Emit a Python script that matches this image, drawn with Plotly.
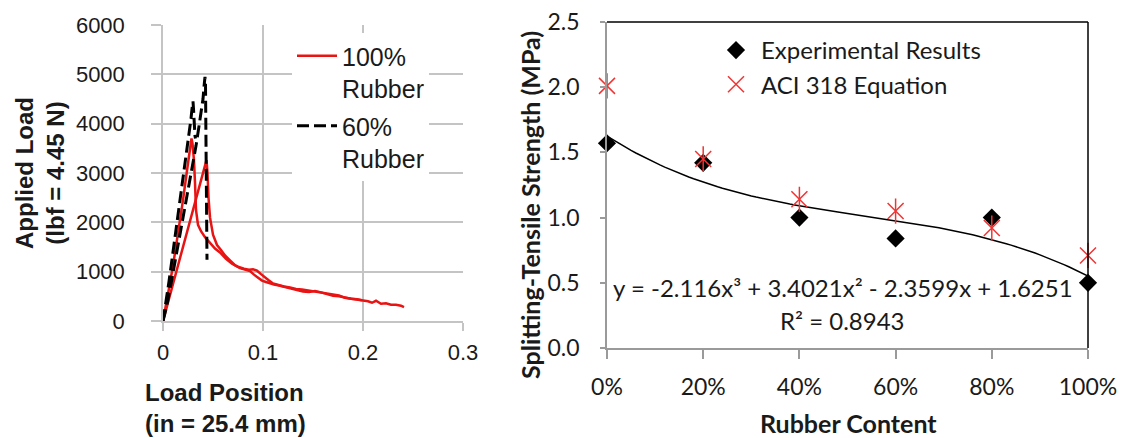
import numpy as np
import plotly.graph_objects as go

# ---------------- Load-displacement curves (left panel) ----------------
# 100% rubber, specimen 1
r1_pos = [0, 0.004, 0.008, 0.012, 0.016, 0.020, 0.024, 0.027, 0.0285, 0.0295, 0.031, 0.032,
          0.033, 0.035, 0.038, 0.042, 0.047, 0.052, 0.057, 0.063, 0.069, 0.075, 0.081, 0.086,
          0.090, 0.094, 0.098, 0.102, 0.106, 0.110, 0.115, 0.121, 0.127, 0.133, 0.139, 0.145,
          0.151, 0.157, 0.163, 0.170, 0.176, 0.182, 0.188, 0.194, 0.200, 0.205, 0.209, 0.213,
          0.218, 0.223, 0.228, 0.233, 0.238, 0.241]
r1_load = [0, 420, 880, 1380, 1880, 2450, 3050, 3500, 3700, 3600, 3250, 2800,
           2250, 1950, 1820, 1700, 1580, 1470, 1390, 1260, 1160, 1100, 1060, 1040,
           1050, 1020, 950, 880, 820, 760, 730, 700, 680, 650, 640, 620,
           600, 570, 560, 540, 520, 470, 450, 430, 410, 400, 370, 410,
           350, 360, 330, 330, 310, 280]

# 100% rubber, specimen 2
r2_pos = [0, 0.005, 0.010, 0.015, 0.020, 0.025, 0.029, 0.031, 0.034, 0.037, 0.040, 0.042,
          0.0435, 0.0445, 0.0455, 0.047, 0.050, 0.054, 0.058, 0.062, 0.067, 0.072, 0.077,
          0.082, 0.087, 0.091, 0.095, 0.099, 0.103, 0.107, 0.111, 0.116, 0.122, 0.128,
          0.134, 0.140, 0.146, 0.152, 0.158, 0.164, 0.170, 0.176, 0.182, 0.188, 0.194, 0.199]
r2_load = [0, 380, 760, 1120, 1500, 1880, 2200, 2350, 2600, 2800, 3000, 3150,
           3260, 3000, 2500, 2100, 1750, 1540, 1440, 1330, 1230, 1130, 1070,
           1040, 1010, 940, 870, 820, 790, 760, 740, 720, 690, 660,
           640, 600, 590, 610, 580, 540, 510, 500, 470, 450, 440, 420]

# 60% rubber, specimen 1
s1_pos = [0, 0.003, 0.006, 0.009, 0.012, 0.015, 0.018, 0.021, 0.024, 0.026, 0.028, 0.029,
          0.030, 0.0305, 0.031, 0.032, 0.0325]
s1_load = [0, 380, 800, 1250, 1700, 2150, 2550, 2950, 3450, 3750, 4100, 4300,
           4450, 4300, 3950, 3750, 3700]

# 60% rubber, specimen 2
s2_pos = [0, 0.004, 0.008, 0.012, 0.016, 0.020, 0.024, 0.027, 0.030, 0.033, 0.036, 0.038,
          0.040, 0.041, 0.042, 0.0425, 0.043, 0.0435, 0.044]
s2_load = [0, 330, 750, 1200, 1650, 2100, 2550, 2850, 3200, 3550, 3950, 4200,
           4500, 4750, 4950, 4800, 3600, 2400, 1240]

load_ticks = [0, 1000, 2000, 3000, 4000, 5000, 6000]
pos_ticks = [0, 0.1, 0.2, 0.3]
pos_tick_text = ["0", "0.1", "0.2", "0.3"]

# ---------------- Splitting-tensile strength (right panel) ----------------
rubber_content = [0.0, 0.2, 0.4, 0.6, 0.8, 1.0]
rubber_labels = ["0%", "20%", "40%", "60%", "80%", "100%"]
experimental = [1.57, 1.42, 1.00, 0.84, 1.00, 0.50]
aci_318 = [2.01, 1.45, 1.14, 1.05, 0.92, 0.71]
fit_coeffs = [-2.116, 3.4021, -2.3599, 1.6251]   # cubic, highest power first
fit_r2 = 0.8943

RED = "#e81414"
ACI_RED = "#f03434"
GRID = "#c4c4c4"
ARIAL = "Liberation Sans, Arial, sans-serif"
CAL = "Lato, sans-serif"

fig = go.Figure()

red_line = dict(color=RED, width=2.5)
blk_line = dict(color="black", width=3, dash="12px,5px")

fig.add_trace(go.Scatter(x=r1_pos, y=r1_load, mode="lines", line=red_line,
                         name="100%<br>Rubber", legend="legend", legendgroup="r",
                         xaxis="x", yaxis="y"))
fig.add_trace(go.Scatter(x=r2_pos, y=r2_load, mode="lines", line=red_line,
                         showlegend=False, legendgroup="r", xaxis="x", yaxis="y"))
fig.add_trace(go.Scatter(x=s1_pos, y=s1_load, mode="lines", line=blk_line,
                         name="60%<br>Rubber", legend="legend", legendgroup="s",
                         xaxis="x", yaxis="y"))
fig.add_trace(go.Scatter(x=s2_pos, y=s2_load, mode="lines", line=blk_line,
                         showlegend=False, legendgroup="s", xaxis="x", yaxis="y"))

# cubic trend line drawn from the fitted equation
xs = np.linspace(0, 1, 101)
fig.add_trace(go.Scatter(x=xs, y=np.polyval(fit_coeffs, xs), mode="lines",
                         line=dict(color="black", width=1.5), showlegend=False,
                         xaxis="x2", yaxis="y2", hoverinfo="skip"))
fig.add_trace(go.Scatter(x=rubber_content, y=experimental, mode="markers",
                         marker=dict(symbol="diamond", size=14, color="black"),
                         name="Experimental Results", legend="legend2", legendgroup="exp",
                         cliponaxis=False, xaxis="x2", yaxis="y2"))
fig.add_trace(go.Scatter(x=rubber_content, y=aci_318, mode="markers",
                         marker=dict(symbol="x-thin-open", size=16, color=ACI_RED,
                                     line=dict(color=ACI_RED, width=1.5)),
                         name="ACI 318 Equation", legend="legend2", legendgroup="aci",
                         cliponaxis=False, xaxis="x2", yaxis="y2"))
fig.add_trace(go.Scatter(x=rubber_content, y=aci_318, mode="markers",
                         marker=dict(symbol="line-ns-open", size=18, color=ACI_RED,
                                     line=dict(color=ACI_RED, width=1.5)),
                         showlegend=False, legendgroup="aci",
                         cliponaxis=False, xaxis="x2", yaxis="y2"))

W, H = 1124, 438


def px_x(p):
    return p / W


def px_y(p):
    return (H - p) / H


tick_font = dict(family=ARIAL, size=22, color="#1a1a1a")
tick_font2 = dict(family=CAL, size=23, color="#1a1a1a")

fig.update_layout(
    width=W, height=H,
    margin=dict(l=0, r=0, t=0, b=0, autoexpand=False),
    paper_bgcolor="white", plot_bgcolor="white",
    xaxis=dict(domain=[px_x(163), px_x(463)], range=[0, 0.3], tickvals=pos_ticks,
               ticktext=pos_tick_text, showgrid=True, gridcolor=GRID, gridwidth=1.5,
               zeroline=False, showline=True, linecolor=GRID, linewidth=1.5,
               ticks="outside", ticklen=8, tickcolor=GRID, tickwidth=1.5,
               tickfont=tick_font, ticklabelstandoff=3, anchor="y", automargin=False),
    yaxis=dict(domain=[px_y(321), px_y(25)], range=[0, 6000], tickvals=load_ticks,
               showgrid=True, gridcolor=GRID, gridwidth=1.5, zeroline=False,
               showline=True, linecolor=GRID, linewidth=1.5,
               ticks="outside", ticklen=10, tickcolor=GRID, tickwidth=1.5,
               tickfont=tick_font, ticklabelstandoff=22, anchor="x", automargin=False),
    xaxis2=dict(domain=[px_x(607), px_x(1088)], range=[0, 1], tickvals=rubber_content,
                ticktext=rubber_labels, showgrid=False, zeroline=False, showline=True,
                linecolor="#9a9a9a", linewidth=1.5, ticks="outside", ticklen=9,
                tickcolor="#9a9a9a", tickwidth=1.5, tickfont=tick_font2,
                ticklabelstandoff=9, anchor="y2", automargin=False),
    yaxis2=dict(domain=[px_y(348), px_y(22)], range=[0, 2.5], dtick=0.5, tickformat=".1f",
                showgrid=False, zeroline=False, showline=True, linecolor="#9a9a9a",
                linewidth=1.5, ticks="outside", ticklen=5, tickcolor="#9a9a9a",
                tickwidth=1.5, tickfont=tick_font2, ticklabelstandoff=16, anchor="x2",
                automargin=False),
    legend=dict(x=px_x(292), y=px_y(33), xanchor="left", yanchor="top",
                bgcolor="white", font=dict(family=ARIAL, size=25, color="#1a1a1a"),
                valign="top", itemwidth=40, tracegroupgap=2),
    legend2=dict(x=px_x(711), y=px_y(28), xanchor="left", yanchor="top",
                 bgcolor="rgba(0,0,0,0)", font=dict(family=CAL, size=24, color="#1a1a1a"),
                 itemsizing="trace", tracegroupgap=0, itemwidth=40),
    showlegend=True,
)

# black frame on the top and right of the strength panel
fig.add_shape(type="line", xref="x2 domain", yref="y2 domain", x0=0, x1=1, y0=1, y1=1,
              line=dict(color="black", width=1.5))
fig.add_shape(type="line", xref="x2 domain", yref="y2 domain", x0=1, x1=1, y0=0, y1=1,
              line=dict(color="black", width=1.5))

bold_arial = dict(family="Liberation Sans, Arial, sans-serif", size=24, color="#1a1a1a")
bold_cal = dict(family="Lato, sans-serif", size=25, color="#1a1a1a")

fig.add_annotation(xref="paper", yref="paper", x=px_x(40), y=px_y(173),
                   text="<b>Applied Load<br>(lbf = 4.45 N)</b>", textangle=-90,
                   showarrow=False, font=bold_arial, xanchor="center", yanchor="middle")
fig.add_annotation(xref="paper", yref="paper", x=px_x(143), y=px_y(377),
                   text="<b>Load Position<br>(in = 25.4 mm)</b>", align="left",
                   showarrow=False, font=bold_arial, xanchor="left", yanchor="top")
fig.add_annotation(xref="paper", yref="paper", x=px_x(530), y=px_y(205),
                   text="<b>Splitting-Tensile Strength (MPa)</b>", textangle=-90,
                   showarrow=False, font=bold_cal, xanchor="center", yanchor="middle")
fig.add_annotation(xref="paper", yref="paper", x=px_x(848), y=px_y(423),
                   text="<b>Rubber Content</b>", showarrow=False, font=bold_cal,
                   xanchor="center", yanchor="middle")

a, b, c, d = fit_coeffs
eq_text = f"y = {a}x³ + {b}x² - {abs(c)}x + {d}"
fig.add_annotation(xref="paper", yref="paper", x=px_x(843), y=px_y(287), text=eq_text,
                   showarrow=False, font=dict(family=CAL, size=24, color="#1a1a1a"),
                   xanchor="center", yanchor="middle")
fig.add_annotation(xref="paper", yref="paper", x=px_x(842), y=px_y(320),
                   text=f"R² = {fit_r2}", showarrow=False,
                   font=dict(family=CAL, size=24, color="#1a1a1a"),
                   xanchor="center", yanchor="middle")

fig.write_html("out.html")
